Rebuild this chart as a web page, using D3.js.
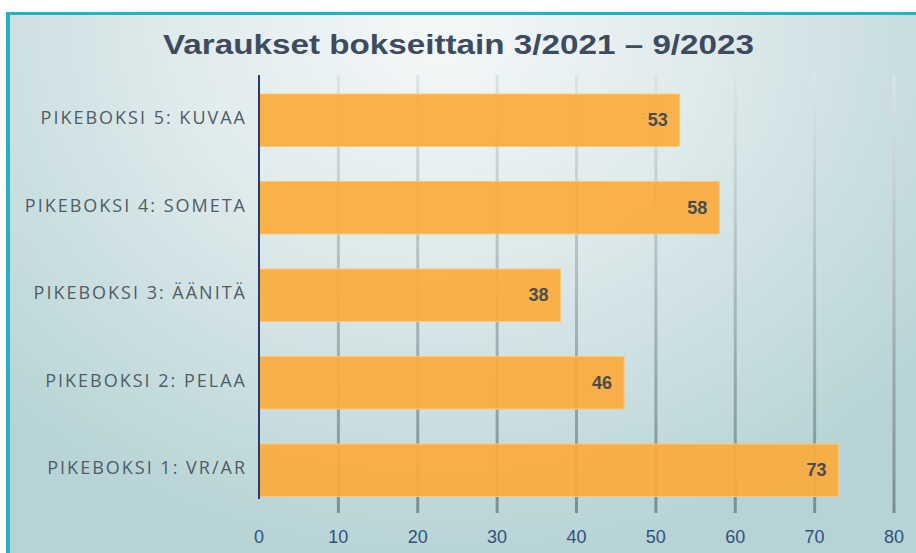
<!DOCTYPE html>
<html>
<head>
<meta charset="utf-8">
<script src="https://cdn.jsdelivr.net/npm/d3@7"></script>
<style>
  body { margin: 0; background: #fff; }
  svg { display: block; }
</style>
</head>
<body>
<div id="container"></div>
<script>
// data
const categories = [
  "PIKEBOKSI 5: KUVAA",
  "PIKEBOKSI 4: SOMETA",
  "PIKEBOKSI 3: ÄÄNITÄ",
  "PIKEBOKSI 2: PELAA",
  "PIKEBOKSI 1: VR/AR"
];
const values = [53, 58, 38, 46, 73];
const ticks = [0, 10, 20, 30, 40, 50, 60, 70, 80];
const title = "Varaukset bokseittain 3/2021 – 9/2023";

const w = 916;
const h = 553;

let svg = d3.select("#container")
  .append("svg")
    .attr("width", w)
    .attr("height", h);

let defs = svg.append("defs");

// background gradient, light in the middle-top, teal to the edges
let bg = defs.append("radialGradient")
    .attr("id", "bg")
    .attr("gradientUnits", "userSpaceOnUse")
    .attr("cx", 440).attr("cy", 30).attr("r", 640)
    .attr("gradientTransform", "translate(440,30) scale(1,0.85) translate(-440,-30)");
bg.append("stop").attr("offset", "0").attr("stop-color", "#f5f8f9");
bg.append("stop").attr("offset", "0.4").attr("stop-color", "#e0ebec");
bg.append("stop").attr("offset", "1").attr("stop-color", "#b6d3d5");

let gridGrad = defs.append("linearGradient")
    .attr("id", "grid")
    .attr("gradientUnits", "userSpaceOnUse")
    .attr("x1", 0).attr("y1", 75).attr("x2", 0).attr("y2", 513);
gridGrad.append("stop").attr("offset", "0").attr("stop-color", "#dbe5e7");
gridGrad.append("stop").attr("offset", "1").attr("stop-color", "#7c8d95");

// panel
svg.append("rect")
    .attr("x", 6).attr("y", 12)
    .attr("width", w - 6).attr("height", h - 12)
    .attr("fill", "url(#bg)");
svg.append("rect")
    .attr("x", 6).attr("y", 12)
    .attr("width", w - 6).attr("height", 3)
    .attr("fill", "#21b3c0");
svg.append("rect")
    .attr("x", 6).attr("y", 12)
    .attr("width", 4).attr("height", h - 12)
    .attr("fill", "#21b3c0");

let xScale = d3.scaleLinear().domain([0, 80]).range([259, 894]);
let yScale = d3.scaleBand().domain(categories).range([76.5, 514]).paddingInner(0.4).paddingOuter(0.2);

// grid lines
svg.selectAll(".grid")
  .data(ticks.slice(1))
  .enter()
  .append("rect")
    .attr("class", "grid")
    .attr("x", d => xScale(d) - 1.5)
    .attr("y", 75)
    .attr("width", 3)
    .attr("height", 438)
    .attr("fill", "url(#grid)");

// bars
svg.selectAll(".bar")
  .data(values)
  .enter()
  .append("rect")
    .attr("class", "bar")
    .attr("x", xScale(0))
    .attr("y", (d, i) => yScale(categories[i]))
    .attr("width", d => xScale(d) - xScale(0))
    .attr("height", yScale.bandwidth())
    .attr("fill", "#fbab3c")
    .attr("fill-opacity", 0.92)
    .attr("stroke", "#fcc77a")
    .attr("stroke-width", 1);

// zero line
svg.append("line")
    .attr("x1", xScale(0)).attr("x2", xScale(0))
    .attr("y1", 75).attr("y2", 499)
    .attr("stroke", "#2b3a6e")
    .attr("stroke-width", 2);

// value labels
svg.selectAll(".val")
  .data(values)
  .enter()
  .append("text")
    .attr("x", d => xScale(d) - 12)
    .attr("y", (d, i) => yScale(categories[i]) + yScale.bandwidth() / 2 + 6)
    .attr("text-anchor", "end")
    .attr("font-family", "Liberation Sans, Arial, sans-serif")
    .attr("font-weight", "bold")
    .attr("font-size", 18)
    .attr("fill", "#4a4c50")
    .text(d => d);

// category labels
svg.selectAll(".cat")
  .data(categories)
  .enter()
  .append("text")
    .attr("x", 247)
    .attr("y", d => yScale(d) + yScale.bandwidth() / 2 + 4)
    .attr("text-anchor", "end")
    .attr("font-family", "Open Sans, sans-serif")
    .attr("font-size", 18)
    .attr("letter-spacing", 2)
    .attr("fill", "#505c66")
    .text(d => d);

// x axis labels
svg.selectAll(".tick")
  .data(ticks)
  .enter()
  .append("text")
    .attr("x", d => xScale(d))
    .attr("y", 543)
    .attr("text-anchor", "middle")
    .attr("font-family", "Liberation Sans, Arial, sans-serif")
    .attr("font-size", 18)
    .attr("fill", "#34507e")
    .text(d => d);

// title
svg.append("text")
    .attr("x", 163)
    .attr("y", 54)
    .attr("textLength", 591)
    .attr("lengthAdjust", "spacingAndGlyphs")
    .attr("font-family", "Liberation Sans, Arial, sans-serif")
    .attr("font-weight", "bold")
    .attr("font-size", 27)
    .attr("fill", "#3d4b5e")
    .text(title);
</script>
</body>
</html>
